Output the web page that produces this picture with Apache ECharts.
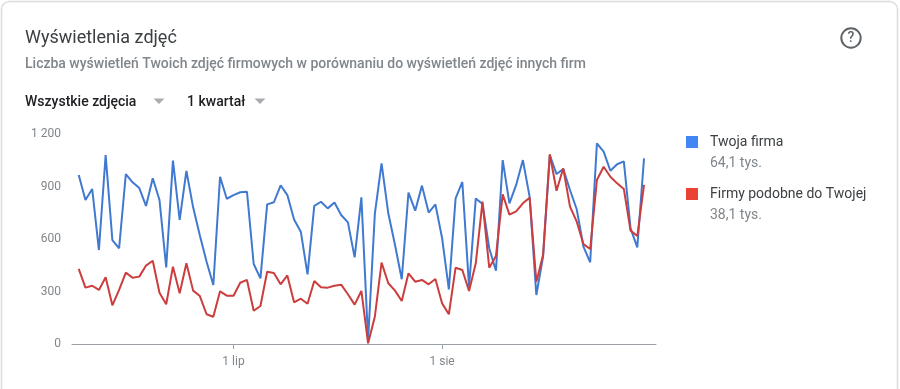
<!DOCTYPE html>
<html><head><meta charset="utf-8">
<script src="https://cdn.jsdelivr.net/npm/echarts@6/dist/echarts.min.js"></script>
<style>html,body{margin:0;padding:0;background:#fff}#c{width:900px;height:389px}</style>
</head><body><div id="c"></div>
<script>
const seriesNames = ['Twoja firma', 'Firmy podobne do Twojej'];
const seriesTotals = ['64,1 tys.', '38,1 tys.'];
const yourBusiness = [966,823,886,537,1080,594,547,971,924,891,789,947,823,438,1048,709,989,781,620,470,337,956,830,851,867,870,457,375,798,810,907,851,712,642,398,789,813,775,808,737,695,495,838,23,743,1032,747,566,370,865,762,905,751,798,604,312,832,926,328,832,800,547,419,1051,804,909,1051,842,280,499,1080,971,1000,880,770,556,467,1147,1099,990,1027,1044,661,552,1061];
const similarBusinesses = [429,322,333,309,381,221,309,408,379,385,448,476,293,227,442,290,461,305,274,170,156,301,276,276,350,366,190,217,413,406,341,392,238,259,230,360,324,322,333,339,284,225,303,4,156,465,347,305,246,404,356,366,341,371,232,170,436,423,303,461,813,436,503,855,739,758,804,836,356,509,1084,876,1004,785,699,571,543,937,1013,956,918,886,648,617,909];
const monthTickIndex = [23, 54];
const monthTickLabels = ['1 lip', '1 sie'];
const yTicks = [0, 300, 600, 900, 1200];
const yTickLabels = ['0', '300', '600', '900', '1 200'];

const toPoints = arr => arr.map((v, i) => [i, v]);
const font = 'Roboto, sans-serif';
const txt = (x, y, text, size, color, weight) => ({
  type: 'text', x, y, silent: true,
  style: { text, fontFamily: font, fontSize: size, fill: color, fontWeight: weight || 400, verticalAlign: 'middle' }
});
const tri = (cx, cy) => ({
  type: 'polygon', silent: true,
  shape: { points: [[cx - 5.5, cy - 2.5], [cx + 5.5, cy - 2.5], [cx, cy + 3]] },
  style: { fill: '#a8abaf' }
});

const chart = echarts.init(document.getElementById('c'), null, { renderer: 'canvas' });
chart.setOption({
  animation: false,
  backgroundColor: '#fff',
  grid: { left: 72, right: 244, top: 134, height: 210, containLabel: false },
  xAxis: {
    type: 'value', min: -1, max: 85.78,
    splitLine: { show: false },
    axisLine: { show: true, onZero: true, lineStyle: { color: '#9aa0a6', width: 1 } },
    axisTick: { show: true, customValues: monthTickIndex, length: 5, lineStyle: { color: '#9aa0a6' } },
    axisLabel: {
      customValues: monthTickIndex, margin: 12, color: '#80868b', fontSize: 12, fontFamily: font,
      formatter: v => monthTickLabels[monthTickIndex.indexOf(v)] || ''
    }
  },
  yAxis: {
    type: 'value', min: 0, max: 1200, interval: 300,
    axisLine: { show: false },
    axisTick: { show: true, customValues: [0], length: 4, lineStyle: { color: '#9aa0a6' } },
    splitLine: { show: true, lineStyle: { color: '#ececec', width: 1 } },
    axisLabel: {
      margin: 11, color: '#80868b', fontSize: 12, fontFamily: font,
      formatter: v => yTickLabels[yTicks.indexOf(v)]
    }
  },
  legend: {
    orient: 'vertical', left: 681, top: 128, itemWidth: 12, itemHeight: 12, itemGap: 34, icon: 'rect',
    selectedMode: false,
    textStyle: { color: '#3c4043', fontSize: 14, fontFamily: font, padding: [0, 0, 0, 7], lineHeight: 18 },
    data: [
      { name: seriesNames[0], itemStyle: { color: '#4285f4' } },
      { name: seriesNames[1], itemStyle: { color: '#ea4335' } }
    ]
  },
  series: [
    { name: seriesNames[0], type: 'line', data: toPoints(yourBusiness), symbol: 'none', z: 2,
      lineStyle: { color: '#4079d0', width: 2 }, itemStyle: { color: '#4285f4' } },
    { name: seriesNames[1], type: 'line', data: toPoints(similarBusinesses), symbol: 'none', z: 3,
      lineStyle: { color: '#cc3d3d', width: 2 }, itemStyle: { color: '#ea4335' } }
  ],
  graphic: { elements: [
    { type: 'rect', silent: true, z: -10, shape: { x: 1.5, y: 1.5, width: 896, height: 400, r: 8 },
      style: { fill: '#fff', stroke: '#dadce0', lineWidth: 1.5 } },
    txt(25, 38, 'Wyświetlenia zdjęć', 18, '#3c4043'),
    txt(25, 64, 'Liczba wyświetleń Twoich zdjęć firmowych w porównaniu do wyświetleń zdjęć innych firm', 14, '#80868b', 500),
    txt(25, 102, 'Wszystkie zdjęcia', 14, '#202124', 500),
    tri(159, 101),
    txt(187, 102, '1 kwartał', 14, '#202124', 500),
    tri(260, 101),
    { type: 'circle', silent: true, shape: { cx: 851, cy: 38, r: 9.7 }, style: { fill: 'none', stroke: '#5f6368', lineWidth: 2 } },
    { type: 'text', silent: true, x: 851, y: 38, style: { text: '?', fontFamily: font, fontSize: 14, fontWeight: 500, fill: '#5f6368', align: 'center', verticalAlign: 'middle' } },
    txt(710, 163, seriesTotals[0], 14, '#80868b'),
    txt(710, 215, seriesTotals[1], 14, '#80868b')
  ] }
});
</script></body></html>
